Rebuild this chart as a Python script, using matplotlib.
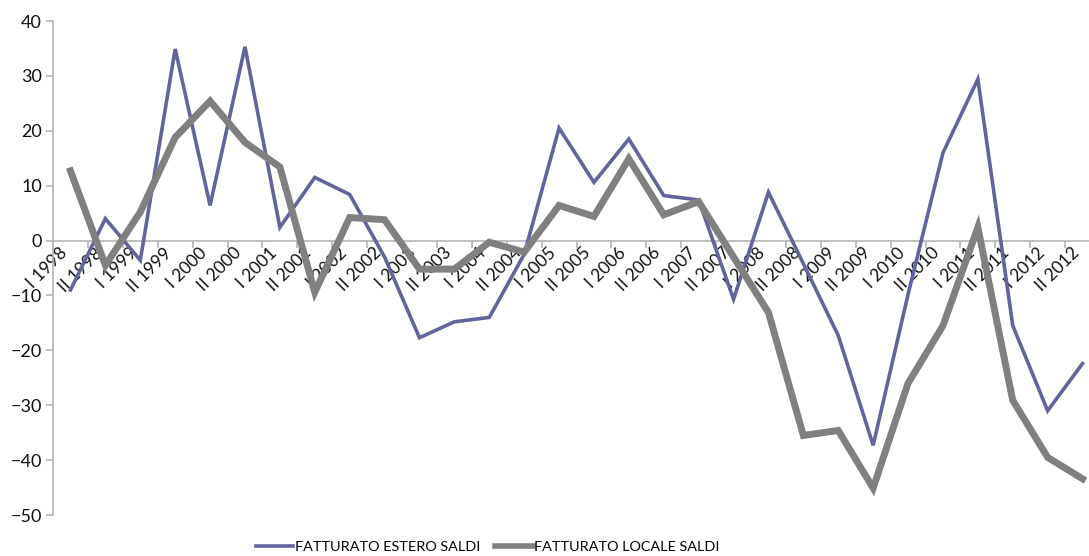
import matplotlib.pyplot as plt
import numpy as np

plt.rcParams['font.family'] = ['Lato', 'DejaVu Sans']

# half-year periods
periodi = []
for anno in range(1998, 2013):
    periodi += ['I %d' % anno, 'II %d' % anno]

estero = [-9.0, 4.0, -3.6, 34.9, 6.4, 35.3, 2.4, 11.5, 8.4, -3.0,
          -17.7, -14.8, -14.0, -2.5, 20.5, 10.6, 18.5, 8.2, 7.4, -10.7,
          8.8, -4.2, -17.3, -37.3, -9.8, 16.0, 29.4, -15.5, -31.0, -22.4]
locale = [12.7, -4.5, 5.2, 18.8, 25.4, 17.9, 13.4, -9.4, 4.2, 3.8,
          -5.2, -5.2, -0.3, -2.1, 6.4, 4.4, 14.9, 4.7, 7.1, -3.0,
          -13.1, -35.5, -34.6, -45.1, -26.0, -15.5, 2.4, -29.1, -39.5, -43.4]

col_estero = '#62649c'
col_locale = '#808080'
col_axis = '#b4b4b4'

fig = plt.figure(figsize=(10.89, 5.56), dpi=100)
ax = fig.add_axes([0.0487, 0.0737, 0.9614, 0.8885])

x = np.arange(len(periodi))
ax.plot(x, estero, color=col_estero, lw=2.6, solid_joinstyle='miter',
        label='FATTURATO ESTERO SALDI', zorder=3)
ax.plot(x, locale, color=col_locale, lw=5.0, solid_joinstyle='miter',
        label='FATTURATO LOCALE SALDI', zorder=4)

ax.set_xlim(-0.5, len(periodi) - 0.5)
ax.set_ylim(-50, 40)
ax.set_yticks(np.arange(-50, 41, 10))

# horizontal axis sits on zero
for s in ['top', 'right']:
    ax.spines[s].set_visible(False)
ax.spines['bottom'].set_position(('data', 0))
ax.spines['bottom'].set_color(col_axis)
ax.spines['left'].set_color(col_axis)
ax.spines['bottom'].set_linewidth(1.2)
ax.spines['left'].set_linewidth(1.2)

# tick marks on category borders, labels at category centres
ax.set_xticks(np.arange(-0.5, len(periodi), 1.0))
ax.set_xticklabels([])
ax.set_xticks(x, minor=True)
ax.set_xticklabels(periodi, minor=True, rotation=45, ha='right', va='top',
                   fontsize=12.5, color='#111111')
ax.tick_params(axis='x', which='major', length=5, color=col_axis, width=1.2)
ax.tick_params(axis='x', which='minor', length=0, pad=3)
ax.tick_params(axis='y', length=5, color=col_axis, width=1.2, labelsize=13,
               labelcolor='#111111', pad=3)
for lab in ax.get_xticklabels(minor=True):
    lab.set_zorder(2)

leg = fig.legend(loc='center', bbox_to_anchor=(0.448, 0.016), ncol=2,
                 frameon=False, fontsize=10.4, handlelength=2.6,
                 handletextpad=0.12, columnspacing=1.0)
leg.get_lines()[1].set_linewidth(4.0)

fig.savefig('out.png', dpi=100, facecolor='white')
